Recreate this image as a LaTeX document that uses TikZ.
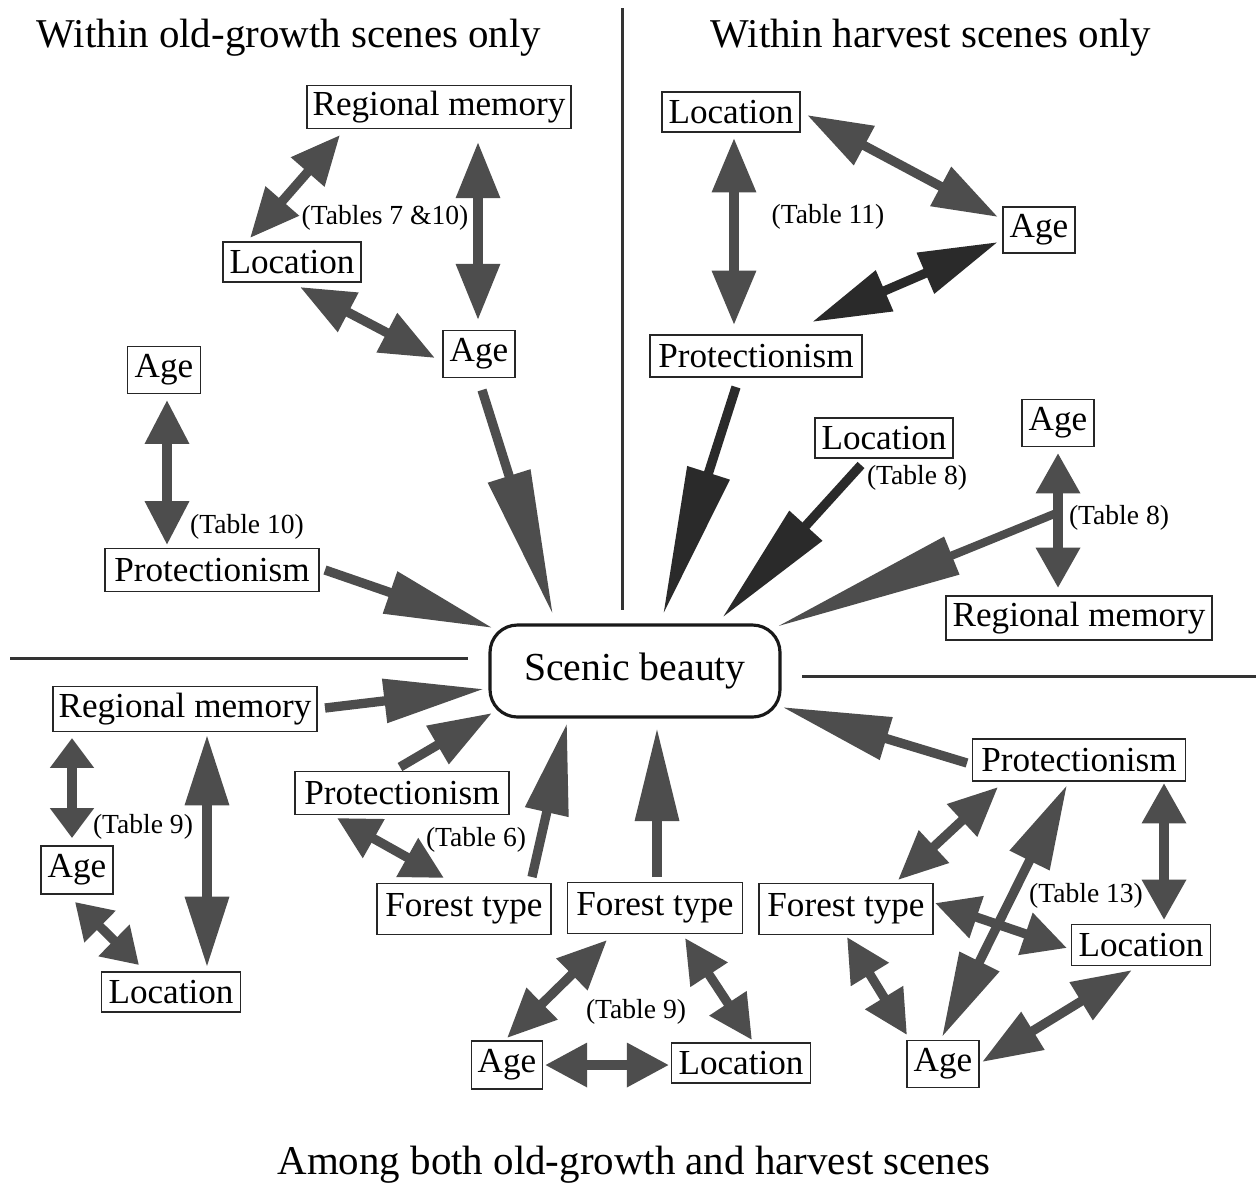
\documentclass[tikz,border=0pt]{standalone}
\usepackage{fontspec}
\setmainfont{Liberation Serif}
\usetikzlibrary{arrows.meta}
\definecolor{ag}{HTML}{4D4D4D}
\definecolor{dk}{HTML}{2A2A2A}
\begin{document}
\begin{tikzpicture}[x=0.02cm,y=-0.02cm,
 box/.style 2 args={draw=black!85, line width=1.1pt, fill=white, inner sep=0pt, minimum width=#1*0.02cm, minimum height=#2*0.02cm, font=\fontsize{20}{22}\selectfont},
 ttl/.style={font=\fontsize{23.3}{26}\selectfont, inner sep=0pt},
 tab/.style={font=\fontsize{15.7}{18}\selectfont, inner sep=0pt},
 uni/.style={draw=ag, line width=5.3pt, -{Triangle[length=#1,width=24pt]}},
 bi/.style={draw=ag, line width=5.3pt, {Triangle[length=#1,width=24pt]}-{Triangle[length=#1,width=24pt]}},
 dark/.style={draw=dk},
 sepline/.style={draw=black!80, line width=1.7pt},
]
\useasboundingbox[fill=white] (0,0) rectangle (1256,1188);

% separators and titles
\draw[sepline] (622,8) -- (622,610);
\draw[sepline] (10,658) -- (468,658);
\draw[sepline] (802,676) -- (1256,676);
\node[ttl] (t1) at (289,38) {Within old-growth scenes only};
\node[ttl] (t2) at (931,38) {Within harvest scenes only};
\node[ttl] (t3) at (634,1165) {Among both old-growth and harvest scenes};

% central node
\node[draw=black!90, line width=1.8pt, rounded corners=0.55cm, minimum width=290*0.02cm, minimum height=92*0.02cm, fill=white, font=\fontsize{22.6}{26}\selectfont] (sb) at (635,671) {Scenic beauty};

% top-left
\node[box={264}{43}] (rmA) at (439,107) {Regional memory};
\node[box={138}{40}] (locA) at (292,262) {Location};
\node[box={72}{47}] (ageA) at (479,354) {Age};
\node[box={73}{47}] (ageB) at (164,370) {Age};
\node[box={214}{43}] (protB) at (212,570) {Protectionism};
\node[tab] (tabA) at (385,218) {(Tables 7 \&10)};
\node[tab] (tabB) at (247,527) {(Table 10)};

% top-right
\node[box={138}{40}] (locC) at (731,112) {Location};
\node[box={72}{46}] (ageC) at (1039,230) {Age};
\node[box={212}{42}] (protC) at (756,356) {Protectionism};
\node[box={138}{40}] (locD) at (884,438) {Location};
\node[box={72}{47}] (ageD) at (1058,423) {Age};
\node[box={266}{44}] (rmD) at (1079,618) {Regional memory};
\node[tab] (tabC) at (828,217) {(Table 11)};
\node[tab] (tabD) at (917,478) {(Table 8)};
\node[tab] (tabE) at (1119,518) {(Table 8)};

% bottom-left
\node[box={264}{45}] (rmE) at (185,709) {Regional memory};
\node[box={72}{48}] (ageE) at (77,870) {Age};
\node[box={139}{40}] (locE) at (171,992) {Location};
\node[box={214}{43}] (protF) at (402,793) {Protectionism};
\node[box={174}{51}] (ftF) at (464,909) {Forest type};
\node[tab] (tabF) at (143,827) {(Table 9)};
\node[tab] (tabG) at (476,840) {(Table 6)};

% bottom-center
\node[box={175}{51}] (ftG) at (655,908) {Forest type};
\node[box={71}{48}] (ageG) at (507,1065) {Age};
\node[box={139}{40}] (locG) at (741,1063) {Location};
\node[tab] (tabH) at (636,1012) {(Table 9)};

% bottom-right
\node[box={213}{42}] (protH) at (1079,760) {Protectionism};
\node[box={174}{51}] (ftH) at (846,909) {Forest type};
\node[box={139}{41}] (locH) at (1141,945) {Location};
\node[box={72}{47}] (ageH) at (943,1064) {Age};
\node[tab] (tabI) at (1086,896) {(Table 13)};

% ---- connectors: top-left
\draw[bi=28pt] ([shift={(-99,28)}]rmA.center) -- ([shift={(-42,-24)}]locA.center);
\draw[bi=32pt] ([shift={(39,35)}]rmA.center) -- ([shift={(-1,-34)}]ageA.center);
\draw[bi=31pt] ([shift={(8,25)}]locA.center) -- ([shift={(-44,4)}]ageA.center);
\draw[bi=25pt] ([shift={(3,30)}]ageB.center) -- ([shift={(-45,-25)}]protB.center);
\draw[uni=62pt] ([shift={(113,0)}]protB.center) -- ([shift={(-142,-43)}]sb.center);
\draw[uni=83pt] ([shift={(3,36)}]ageA.center) -- ([shift={(-82,-56)}]sb.center);

% ---- top-right
\draw[bi=31pt] ([shift={(3,26)}]locC.center) -- ([shift={(-22,-31)}]protC.center);
\draw[bi=37pt] ([shift={(76,3)}]locC.center) -- ([shift={(-41,-13)}]ageC.center);
\draw[bi=45pt, dark] ([shift={(56,-34)}]protC.center) -- ([shift={(-41,12)}]ageC.center);
\draw[uni=85pt, dark] ([shift={(-20,31)}]protC.center) -- ([shift={(28,-56)}]sb.center);
\draw[uni=71pt, dark] ([shift={(-23,27)}]locD.center) -- ([shift={(87,-53)}]sb.center);
\draw[bi=23pt] ([shift={(0,30)}]ageD.center) -- coordinate[pos=0.44] (j8) ([shift={(-21,-30)}]rmD.center);
\draw[draw=ag, line width=4.7pt, -{Triangle[length=108pt,width=22pt]}] (j8) -- ([shift={(141,-44)}]sb.center);

% ---- bottom-left
\draw[uni=57pt] ([shift={(140,-1)}]rmE.center) -- ([shift={(-151,18)}]sb.center);
\draw[bi=17pt] ([shift={(-113,29)}]rmE.center) -- ([shift={(-5,-32)}]ageE.center);
\draw[bi=40pt] ([shift={(22,26)}]rmE.center) -- ([shift={(36,-25)}]locE.center);
\draw[bi=20pt] ([shift={(-2,32)}]ageE.center) -- ([shift={(-32,-27)}]locE.center);
\draw[uni=36pt] ([shift={(-2,-26)}]protF.center) -- ([shift={(-143,42)}]sb.center);
\draw[bi=24pt] ([shift={(-65,25)}]protF.center) -- ([shift={(-20,-31)}]ftF.center);
\draw[uni=52pt] ([shift={(68,-32)}]ftF.center) -- ([shift={(-68,52)}]sb.center);

% ---- bottom-center
\draw[uni=53pt] ([shift={(2,-31)}]ftG.center) -- ([shift={(22,57)}]sb.center);
\draw[bi=28pt] ([shift={(-48,32)}]ftG.center) -- ([shift={(0,-27)}]ageG.center);
\draw[bi=25pt] ([shift={(30,30)}]ftG.center) -- ([shift={(11,-23)}]locG.center);
\draw[bi=24pt] ([shift={(38,0)}]ageG.center) -- ([shift={(-72,2)}]locG.center);

% ---- bottom-right
\draw[uni=62pt] ([shift={(-112,3)}]protH.center) -- ([shift={(147,36)}]sb.center);
\draw[bi=28pt] ([shift={(-81,27)}]protH.center) -- ([shift={(52,-29)}]ftH.center);
\draw[bi=48pt] ([shift={(-12,25)}]protH.center) -- ([shift={(-1,-27)}]ageH.center);
\draw[bi=23pt] ([shift={(85,23)}]protH.center) -- ([shift={(23,-25)}]locH.center);
\draw[bi=25pt] ([shift={(89,-6)}]ftH.center) -- ([shift={(-74,3)}]locH.center);
\draw[bi=25pt] ([shift={(1,28)}]ftH.center) -- ([shift={(-36,-29)}]ageH.center);
\draw[bi=34pt] ([shift={(-9,25)}]locH.center) -- ([shift={(39,-2)}]ageH.center);
\end{tikzpicture}
\end{document}
